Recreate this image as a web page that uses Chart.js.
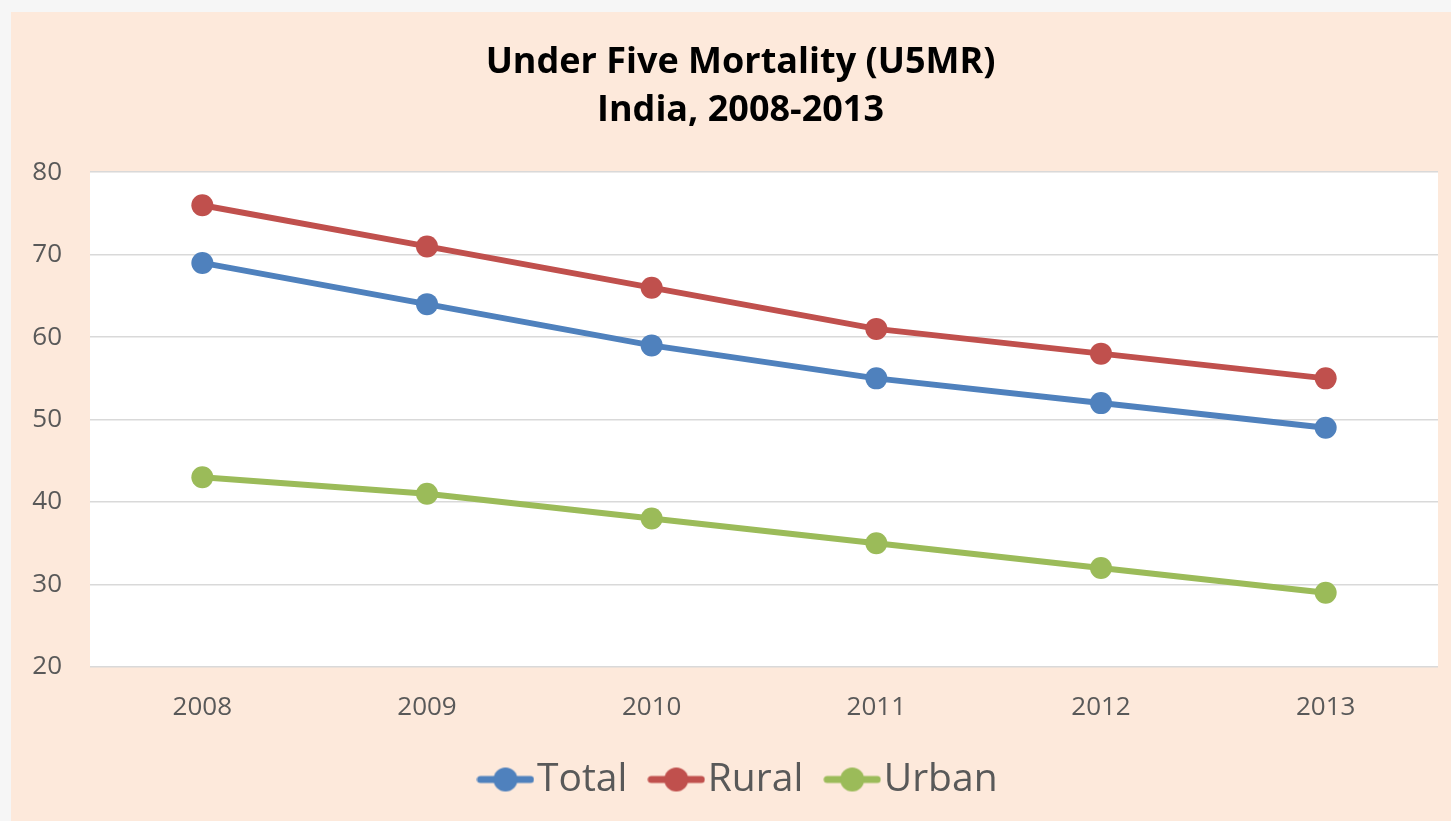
<!DOCTYPE html>
<html>
<head>
<meta charset="utf-8">
<script src="https://cdn.jsdelivr.net/npm/chart.js@4.4.1/dist/chart.umd.min.js"></script>
<style>
  html, body { margin: 0; padding: 0; width: 1451px; height: 821px; overflow: hidden;
    background: #f6f6f6; }
  #wrap { position: absolute; left: 11px; top: 12px; width: 1440px; height: 809px; background: #FDE9DB; }
  canvas { display: block; }
</style>
</head>
<body>
<div id="wrap"><canvas id="c" width="1440" height="809"></canvas></div>
<script>
const categories = ["2008", "2009", "2010", "2011", "2012", "2013"];
const totalValues = [69, 64, 59, 55, 52, 49];
const ruralValues = [76, 71, 66, 61, 58, 55];
const urbanValues = [43, 41, 38, 35, 32, 29];
const titleLines = ["Under Five Mortality (U5MR)", "India, 2008-2013"];
const seriesNames = ["Total", "Rural", "Urban"];
const seriesColors = ["#4F81BD", "#C0504D", "#9BBB59"];

function legendMarker(color) {
  const c = document.createElement('canvas');
  c.width = 58; c.height = 26;
  const g = c.getContext('2d');
  g.strokeStyle = color; g.lineWidth = 7; g.lineCap = 'round';
  g.beginPath(); g.moveTo(4, 13); g.lineTo(54, 13); g.stroke();
  g.fillStyle = color;
  g.beginPath(); g.arc(29, 13, 12, 0, Math.PI * 2); g.fill();
  return c;
}
const markers = seriesColors.map(legendMarker);

const plotBg = {
  id: 'plotBg',
  beforeDraw(chart) {
    const {ctx, chartArea: a} = chart;
    ctx.save();
    ctx.fillStyle = '#ffffff';
    ctx.fillRect(a.left, a.top, a.right - a.left, a.bottom - a.top);
    ctx.restore();
  }
};

// nudge the title and legend boxes so they are centred like the original
const boxShift = {
  id: 'boxShift',
  afterLayout(chart) {
    if (chart.titleBlock) { chart.titleBlock.left += 16; chart.titleBlock.right += 16; }
    if (chart.legend) { chart.legend.left += 21; chart.legend.right += 21; }
  }
};

const dataSeries = [totalValues, ruralValues, urbanValues];

new Chart(document.getElementById('c'), {
  type: 'line',
  data: {
    labels: categories,
    datasets: dataSeries.map((vals, i) => ({
      label: seriesNames[i],
      data: vals,
      borderColor: seriesColors[i],
      backgroundColor: seriesColors[i],
      borderWidth: 6,
      pointRadius: 11,
      pointHoverRadius: 11,
      pointBorderWidth: 0,
      tension: 0,
      fill: false
    }))
  },
  options: {
    responsive: false,
    animation: false,
    layout: { padding: { left: 0, right: 13, top: 0, bottom: 12 } },
    plugins: {
      tooltip: { enabled: false },
      title: {
        display: true,
        text: titleLines,
        color: '#000000',
        font: { family: 'Open Sans', size: 36, weight: 'bold', lineHeight: 1.35 },
        padding: { top: 26, bottom: 37 }
      },
      legend: {
        position: 'bottom',
        labels: {
          usePointStyle: true,
          pointStyleWidth: 24,
          padding: 37,
          color: '#595959',
          font: { family: 'Open Sans', size: 39 },
          generateLabels(chart) {
            return chart.data.datasets.map((ds, i) => ({
              text: ds.label,
              pointStyle: markers[i],
              fillStyle: ds.borderColor,
              strokeStyle: ds.borderColor,
              fontColor: '#595959',
              lineWidth: 0,
              hidden: false,
              datasetIndex: i
            }));
          }
        }
      }
    },
    scales: {
      x: {
        offset: true,
        grid: { display: false, drawTicks: false },
        border: { display: false },
        ticks: { color: '#595959', padding: 25, font: { family: 'Open Sans', size: 26 } },
        afterFit(s) { s.height = 56; }
      },
      y: {
        min: 20, max: 80,
        grid: { color: '#d9d9d9', lineWidth: 1.5, drawTicks: false },
        border: { display: false },
        ticks: { stepSize: 10, color: '#595959', padding: 28, font: { family: 'Open Sans', size: 26 } },
        afterFit(s) { s.width = 79; }
      }
    }
  },
  plugins: [plotBg, boxShift]
});
</script>
</body>
</html>
